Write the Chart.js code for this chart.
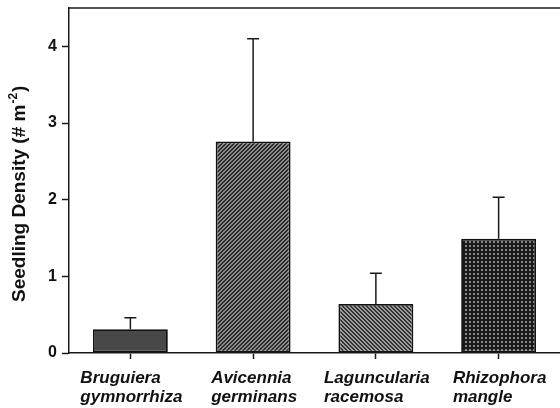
<!DOCTYPE html>
<html>
<head>
<meta charset="utf-8">
<script src="https://cdn.jsdelivr.net/npm/chart.js@4"></script>
<style>
  body { margin: 0; background: #fff; }
  canvas { display: block; }
</style>
</head>
<body>
<canvas id="seedlingChart" width="560" height="408"></canvas>
<script>
// Data
const speciesNames = [
    ['Bruguiera', 'gymnorrhiza'],
    ['Avicennia', 'germinans'],
    ['Laguncularia', 'racemosa'],
    ['Rhizophora', 'mangle']
];
const seedlingDensity = [0.31, 2.76, 0.64, 1.49];
const densityError = [0.15, 1.34, 0.40, 0.54];
const yTickValues = [0, 1, 2, 3, 4];
const yMax = 4.5;
const yTitle = 'Seedling Density (# m';
const yTitleSup = '-2';

const FONT = '"Liberation Sans", Arial, sans-serif';
const INK = '#1a1a1a';

// 4x4 pixel tiles for the bar fills
function makePattern(kind, dark, light) {
    const c = document.createElement('canvas');
    c.width = 4;
    c.height = 4;
    const g = c.getContext('2d');
    for (let y = 0; y < 4; y++) {
        for (let x = 0; x < 4; x++) {
            let isDark;
            if (kind === 'up') isDark = (x + y) % 4 < 2;
            else if (kind === 'down') isDark = (x - y + 8) % 4 < 2;
            else isDark = !(x >= 1 && x <= 2 && y >= 1 && y <= 2);
            g.fillStyle = isDark ? dark : light;
            g.fillRect(x, y, 1, 1);
        }
    }
    return g.createPattern(c, 'repeat');
}

const ctx = document.getElementById('seedlingChart').getContext('2d');
const barFills = [
    '#484848',
    makePattern('up', '#2b2b2b', '#8a8a8a'),
    makePattern('down', '#333333', '#9c9c9c'),
    makePattern('dots', '#1a1a1a', '#858585')
];

// error whiskers (upper only) and the frame's top line
const extrasPlugin = {
    id: 'extras',
    afterDatasetsDraw(chart) {
        const yScale = chart.scales.y;
        const meta = chart.getDatasetMeta(0);
        const c = chart.ctx;
        c.save();
        c.strokeStyle = INK;
        c.lineWidth = 1.5;
        meta.data.forEach((bar, i) => {
            const top = yScale.getPixelForValue(seedlingDensity[i]);
            const end = yScale.getPixelForValue(seedlingDensity[i] + densityError[i]);
            c.beginPath();
            c.moveTo(bar.x, top);
            c.lineTo(bar.x, end);
            c.moveTo(bar.x - 6, end);
            c.lineTo(bar.x + 6, end);
            c.stroke();
        });
        const a = chart.chartArea;
        c.beginPath();
        c.moveTo(a.left, a.top);
        c.lineTo(a.right, a.top);
        c.stroke();
        c.restore();
    },
    afterDraw(chart) {
        const c = chart.ctx;
        const xScale = chart.scales.x;
        const bottom = chart.chartArea.bottom;
        c.save();
        c.fillStyle = '#111';
        // category labels: left-aligned lines, block centred under the tick
        c.font = 'italic bold 17px ' + FONT;
        c.textAlign = 'left';
        c.textBaseline = 'alphabetic';
        speciesNames.forEach((lines, i) => {
            const x = xScale.getPixelForValue(i);
            const w = Math.max(...lines.map(l => c.measureText(l).width));
            lines.forEach((l, j) => c.fillText(l, x - w / 2 + 1, bottom + 30 + j * 19));
        });
        // y-axis title with superscript
        c.translate(25, 302);
        c.rotate(-Math.PI / 2);
        c.font = 'bold 19px ' + FONT;
        c.fillText(yTitle, 0, 0);
        let off = c.measureText(yTitle).width + 1;
        c.font = 'bold 12px ' + FONT;
        c.fillText(yTitleSup, off, -8);
        off += c.measureText(yTitleSup).width + 1;
        c.font = 'bold 19px ' + FONT;
        c.fillText(')', off, 0);
        c.restore();
    }
};

new Chart(ctx, {
    type: 'bar',
    data: {
        labels: speciesNames,
        datasets: [{
            data: seedlingDensity,
            backgroundColor: barFills,
            borderColor: '#111',
            borderWidth: 1.8,
            borderSkipped: false,
            barPercentage: 0.61,
            categoryPercentage: 1
        }]
    },
    options: {
        responsive: false,
        animation: false,
        layout: { padding: { top: 8, right: -2, left: 0, bottom: 0 } },
        plugins: {
            legend: { display: false },
            tooltip: { enabled: false }
        },
        scales: {
            x: {
                grid: { offset: false, drawOnChartArea: false, drawTicks: true, tickLength: 6, tickColor: INK, tickWidth: 1.5 },
                border: { color: INK, width: 1.5 },
                ticks: { display: false },
                afterFit: s => { s.height = 55; }
            },
            y: {
                min: 0,
                max: yMax,
                grid: { drawOnChartArea: false, drawTicks: true, tickLength: 7, tickColor: INK, tickWidth: 1.5 },
                border: { color: INK, width: 1.5 },
                ticks: {
                    stepSize: 1,
                    padding: 5,
                    color: '#111',
                    font: { family: FONT, size: 16, weight: 'bold' }
                },
                afterBuildTicks: s => { s.ticks = yTickValues.map(v => ({ value: v })); },
                afterFit: s => { s.width = 69; s.paddingTop = 0; s.paddingBottom = 0; }
            }
        }
    },
    plugins: [extrasPlugin]
});
</script>
</body>
</html>
